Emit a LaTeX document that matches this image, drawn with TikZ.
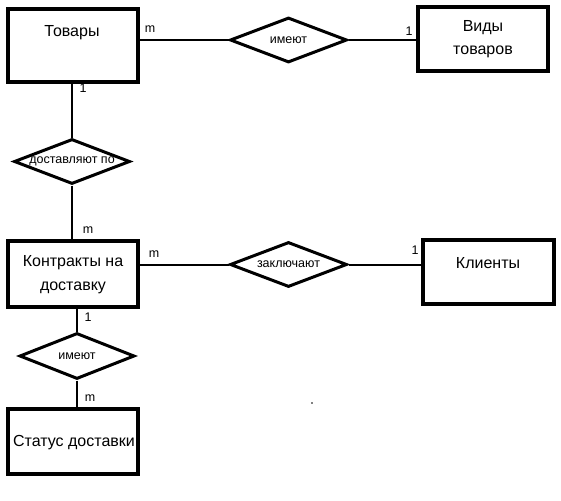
\documentclass[tikz,border=0pt]{standalone}
\usepackage{fontspec}
\setmainfont{Liberation Sans}
\usetikzlibrary{shapes.geometric}
\begin{document}
\begin{tikzpicture}[x=1pt,y=-1pt,
  ent/.style={draw, rectangle, line width=3.2pt, inner sep=0pt},
  rel/.style={draw, diamond, line width=3pt, inner sep=0pt},
  conn/.style={line width=2pt},
  etext/.style={font=\fontsize{16}{24}\selectfont, inner sep=0pt, align=center},
  rtext/.style={font=\fontsize{12.5}{15}\selectfont, inner sep=0pt},
  card/.style={font=\fontsize{12.5}{14}\selectfont, inner sep=0pt}]
\useasboundingbox (0,0) rectangle (561,500);
% entities
\node[ent, minimum width=130pt, minimum height=73pt] (tov) at (73,45.5) {};
\node[ent, minimum width=130pt, minimum height=64pt] (vid) at (483,39) {};
\node[ent, minimum width=130pt, minimum height=66pt] (kon) at (73,274) {};
\node[ent, minimum width=131pt, minimum height=64pt] (kli) at (488.5,272) {};
\node[ent, minimum width=130pt, minimum height=65pt] (sta) at (73,441.5) {};
% relationships
\node[rel, minimum width=117pt, minimum height=45pt] (r1) at (288.5,40) {};
\node[rel, minimum width=116pt, minimum height=45pt] (r2) at (72,161.5) {};
\node[rel, minimum width=117pt, minimum height=45pt] (r3) at (288.5,264.5) {};
\node[rel, minimum width=115pt, minimum height=46pt] (r4) at (77,356) {};
% entity texts
\node[etext, anchor=base] (tovt) at (72,37) {Товары};
\node[etext, anchor=base] (vidt) at (483,32) {Виды};
\node[etext, anchor=base] (vidt2) at (483,55) {товаров};
\node[etext, anchor=base] (kont) at (73,266) {Контракты на};
\node[etext, anchor=base] (kont2) at (73,290) {доставку};
\node[etext, anchor=base] (klit) at (488,268) {Клиенты};
\node[etext, anchor=base] (stat) at (74,446) {Статус доставки};
% relationship texts
\node[rtext] (r1t) at (r1) {имеют};
\node[rtext] (r2t) at (r2) {доставляют по};
\node[rtext] (r3t) at (r3) {заключают};
\node[rtext] (r4t) at (r4) {имеют};
% connectors
\draw[conn] (tov.east |- r1.west) -- (r1.west);
\draw[conn] (r1.east) -- (r1.east -| vid.west);
\draw[conn] (tov.south -| r2.north) -- (r2.north);
\draw[conn] (r2.south) -- (r2.south |- kon.north);
\draw[conn] (kon.east |- r3.west) -- (r3.west);
\draw[conn] (r3.east) -- (r3.east -| kli.west);
\draw[conn] (kon.south -| r4.north) -- (r4.north);
\draw[conn] (r4.south) -- (r4.south |- sta.north);
% cardinalities
\node[card] (c1) at (150,29) {m};
\node[card] (c2) at (409,31) {1};
\node[card] (c3) at (83,88) {1};
\node[card] (c4) at (88,230) {m};
\node[card] (c5) at (154,254) {m};
\node[card] (c6) at (415,250) {1};
\node[card] (c7) at (88,317) {1};
\node[card] (c8) at (90,398) {m};
% stray dot
\fill (312,403) circle (0.9pt);
\end{tikzpicture}
\end{document}
